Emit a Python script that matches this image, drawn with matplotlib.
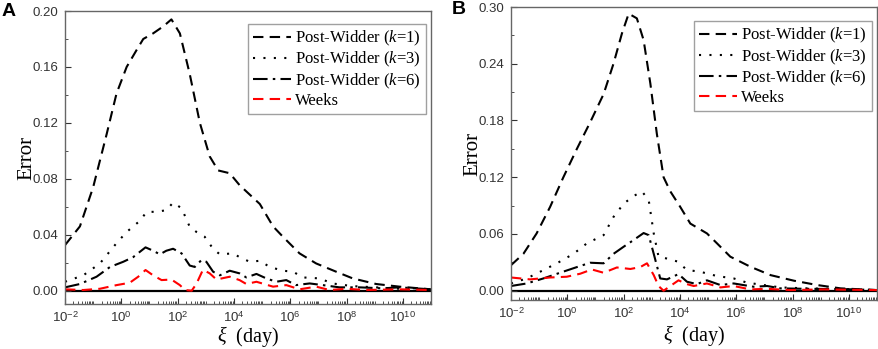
import numpy as np
import matplotlib
matplotlib.use("Agg")
import matplotlib.pyplot as plt
from matplotlib.ticker import FixedLocator, LogLocator, NullFormatter, MultipleLocator

# ---------------- data (log10 of xi in days, error) ----------------
# Panel A
a_k1_logx = [-2.0, -1.47, -1.0, -0.52, -0.17, 0.19, 0.54, 0.78, 1.13, 1.49, 1.78, 2.08, 2.43, 2.79, 3.14,
             3.44, 3.85, 4.2, 4.92, 5.39, 5.74, 6.33, 6.92, 7.63, 8.22, 9.05, 9.88, 11.0]
a_k1_err = [0.0326, 0.046, 0.074, 0.112, 0.141, 0.160, 0.172, 0.180, 0.184, 0.189, 0.194, 0.184, 0.155, 0.120,
            0.096, 0.086, 0.084, 0.0755, 0.062, 0.046, 0.0386, 0.0267, 0.0195, 0.0136, 0.0088, 0.0048, 0.0029, 0.001]

a_k3_logx = [-2.0, -1.35, -0.76, -0.17, 0.19, 0.66, 0.9, 1.25, 1.6, 1.84, 2.14, 2.43, 2.67, 2.96, 3.26, 3.5,
             3.97, 4.2, 4.56, 4.92, 5.27, 5.74, 6.1, 6.45, 7.04, 7.5, 8.2, 9.05, 9.88, 11.0]
a_k3_err = [0.0064, 0.011, 0.0195, 0.034, 0.042, 0.050, 0.0564, 0.0564, 0.0576, 0.063, 0.059, 0.0457, 0.042,
            0.0386, 0.030, 0.026, 0.0267, 0.024, 0.0207, 0.0214, 0.017, 0.0143, 0.0136, 0.0095, 0.0088, 0.0052,
            0.0033, 0.0024, 0.0014, 0.001]

a_k6_logx = [-2.0, -1.47, -0.88, -0.4, 0.07, 0.42, 0.86, 1.13, 1.37, 1.6, 1.84, 2.14, 2.43, 2.61, 2.85, 3.02,
             3.26, 3.5, 3.85, 4.2, 4.44, 4.8, 5.15, 5.5, 5.86, 6.2, 6.69, 7.16, 7.75, 8.46, 9.29, 9.88, 11.0]
a_k6_err = [0.0024, 0.0048, 0.010, 0.017, 0.0207, 0.024, 0.031, 0.0286, 0.026, 0.0286, 0.030, 0.0267, 0.018,
            0.017, 0.022, 0.0207, 0.0136, 0.011, 0.0143, 0.0124, 0.0095, 0.012, 0.0088, 0.0064, 0.0076, 0.004,
            0.0052, 0.004, 0.0024, 0.0024, 0.0017, 0.0024, 0.001]

a_wk_logx = [-2.0, -1.35, -0.76, -0.17, 0.3, 0.6, 0.86, 1.13, 1.43, 1.78, 2.08, 2.26, 2.5, 2.67, 2.9, 3.14,
             3.38, 3.85, 4.2, 4.44, 4.8, 5.39, 5.86, 6.33, 6.92, 7.4, 7.99, 8.7, 9.88, 11.0]
a_wk_err = [0.001, 0.0005, 0.0014, 0.004, 0.0057, 0.010, 0.0148, 0.011, 0.0076, 0.008, 0.004, 0.0005, 0.0,
            0.005, 0.015, 0.0124, 0.008, 0.010, 0.0076, 0.0048, 0.0064, 0.0029, 0.004, 0.001, 0.0029, 0.0005,
            0.0014, 0.0005, 0.001, 0.0005]

# Panel B
b_k1_logx = [-2.0, -1.56, -1.09, -0.61, -0.14, 0.34, 0.81, 1.29, 1.64, 1.94, 2.18, 2.47, 2.71, 2.95, 3.18,
             3.42, 3.66, 4.01, 4.37, 4.96, 5.32, 5.79, 6.5, 7.22, 8.05, 8.88, 9.71, 11.0]
b_k1_err = [0.027, 0.039, 0.0606, 0.0887, 0.120, 0.150, 0.178, 0.208, 0.240, 0.272, 0.293, 0.288, 0.265,
            0.219, 0.166, 0.120, 0.105, 0.0887, 0.071, 0.0606, 0.050, 0.036, 0.0254, 0.0165, 0.0106, 0.006,
            0.0025, 0.0007]

b_k3_logx = [-2.0, -1.44, -0.97, -0.37, 0.22, 0.69, 1.29, 1.64, 2.0, 2.35, 2.65, 2.89, 3.07, 3.24, 3.54, 3.9,
             4.25, 4.73, 5.32, 5.91, 6.39, 6.98, 7.57, 8.52, 9.71, 11.0]
b_k3_err = [0.0077, 0.013, 0.020, 0.029, 0.039, 0.050, 0.0588, 0.078, 0.092, 0.100, 0.105, 0.096, 0.0606,
            0.036, 0.034, 0.031, 0.022, 0.020, 0.0155, 0.013, 0.0085, 0.006, 0.0035, 0.0025, 0.0018, 0.0007]

b_k6_logx = [-2.0, -1.44, -0.85, -0.26, 0.34, 0.81, 1.29, 1.64, 2.0, 2.35, 2.71, 2.89, 3.07, 3.3, 3.54, 3.95,
             4.25, 4.6, 4.96, 5.44, 5.91, 6.62, 7.1, 7.57, 8.52, 9.71, 11.0]
b_k6_err = [0.005, 0.0077, 0.013, 0.019, 0.025, 0.0296, 0.029, 0.039, 0.0465, 0.0535, 0.061, 0.0588, 0.039,
            0.013, 0.012, 0.0176, 0.0095, 0.007, 0.011, 0.006, 0.0077, 0.0042, 0.005, 0.0025, 0.002, 0.0018,
            0.0007]

b_wk_logx = [-2.0, -1.32, -0.61, -0.02, 0.46, 0.87, 1.29, 1.76, 2.24, 2.59, 2.83, 3.07, 3.24, 3.42, 3.66,
             3.95, 4.25, 4.49, 4.96, 5.44, 5.91, 6.5, 7.1, 7.93, 9.11, 11.0]
b_wk_err = [0.014, 0.012, 0.014, 0.0148, 0.018, 0.0225, 0.019, 0.0246, 0.023, 0.025, 0.029, 0.0165, 0.005,
            0.0, 0.005, 0.011, 0.007, 0.005, 0.0077, 0.0035, 0.005, 0.0014, 0.002, 0.0007, 0.0014, 0.0007]

labels = ["Post-Widder ($k$=1)", "Post-Widder ($k$=3)", "Post-Widder ($k$=6)", "Weeks"]
a_yticks = [0.00, 0.04, 0.08, 0.12, 0.16, 0.20]
b_yticks = [0.00, 0.06, 0.12, 0.18, 0.24, 0.30]
xtick_exps = [-2, 0, 2, 4, 6, 8, 10]

# ---------------- drawing ----------------
W, H = 879, 349
fig = plt.figure(figsize=(W / 100, H / 100), dpi=100)
plt.rcParams['mathtext.fontset'] = 'custom'
plt.rcParams['mathtext.it'] = 'Liberation Serif:italic'
plt.rcParams['mathtext.rm'] = 'Liberation Serif'
plt.rcParams['mathtext.sf'] = 'Liberation Sans'

serif = "Liberation Serif"
sans = "Liberation Sans"


def panel(rect, data, yticks, ylim, letter, letter_xy, legend_anchor, xlabel_y):
    ax = fig.add_axes(rect)
    styles = [
        dict(color="black", ls=(0, (5, 3))),
        dict(color="black", ls=(0, (1, 4))),
        dict(color="black", ls=(0, (7, 2.5, 1.2, 2.5))),
        dict(color="red", ls=(0, (5, 3))),
    ]
    for (lx, ly), st, lab in zip(data, styles, labels):
        ax.plot(10 ** np.asarray(lx), ly, lw=1.5, label=lab, **st)
    ax.axhline(0, color="black", lw=1.6, zorder=1)
    ax.set_xscale("log")
    ax.set_xlim(1e-2, 1e11)
    ax.set_ylim(*ylim)
    ax.xaxis.set_major_locator(FixedLocator([10.0 ** e for e in xtick_exps]))
    ax.set_xticklabels([r"10$^{\mathsf{%d}}$" % e for e in xtick_exps], fontfamily=sans, fontsize=9.5)
    ax.xaxis.set_minor_locator(LogLocator(base=10, subs=np.arange(1, 10), numticks=100))
    ax.xaxis.set_minor_formatter(NullFormatter())
    ax.set_yticks(yticks)
    ax.set_yticklabels(["%.2f" % v for v in yticks], fontfamily=sans, fontsize=9.5)
    ax.yaxis.set_minor_locator(MultipleLocator((yticks[1] - yticks[0]) / 2))
    ax.tick_params(which="both", direction="in", top=False, right=False, colors="#333333")
    ax.tick_params(which="major", length=4, width=0.8, pad=5)
    ax.tick_params(which="minor", length=2.5, width=0.6)
    for s in ax.spines.values():
        s.set_color("#666666")
        s.set_linewidth(1.0)
    ax.set_ylabel("Error", fontfamily=serif, fontsize=15, labelpad=-3)
    ax.set_xlabel(r"$\xi$  (day)", fontfamily=serif, fontsize=14.5, va="center")
    ax.xaxis.set_label_coords(0.5, xlabel_y)
    leg = ax.legend(loc="upper right", bbox_to_anchor=legend_anchor, prop=dict(family=serif, size=12),
                    frameon=True, fancybox=False, edgecolor="#888888", handlelength=2.3,
                    handletextpad=0.25, borderpad=0.3, labelspacing=0.12, borderaxespad=0)
    leg.get_frame().set_linewidth(1.0)
    fig.text(letter_xy[0] / W, 1 - letter_xy[1] / H, letter, fontfamily=sans, fontweight="bold",
             fontsize=14, ha="left", va="center")
    return ax


axA = panel([65 / W, 1 - 304 / H, 366 / W, 293 / H],
            [(a_k1_logx, a_k1_err), (a_k3_logx, a_k3_err), (a_k6_logx, a_k6_err), (a_wk_logx, a_wk_err)],
            a_yticks, (-0.0095, 0.20), "A", (2, 12), (0.986, 0.956), -0.112)
axB = panel([511 / W, 1 - 300 / H, 366 / W, 293 / H],
            [(b_k1_logx, b_k1_err), (b_k3_logx, b_k3_err), (b_k6_logx, b_k6_err), (b_wk_logx, b_wk_err)],
            b_yticks, (-0.0098, 0.30), "B", (452, 10), (0.986, 0.952), -0.122)

fig.savefig("out.png", dpi=100)
